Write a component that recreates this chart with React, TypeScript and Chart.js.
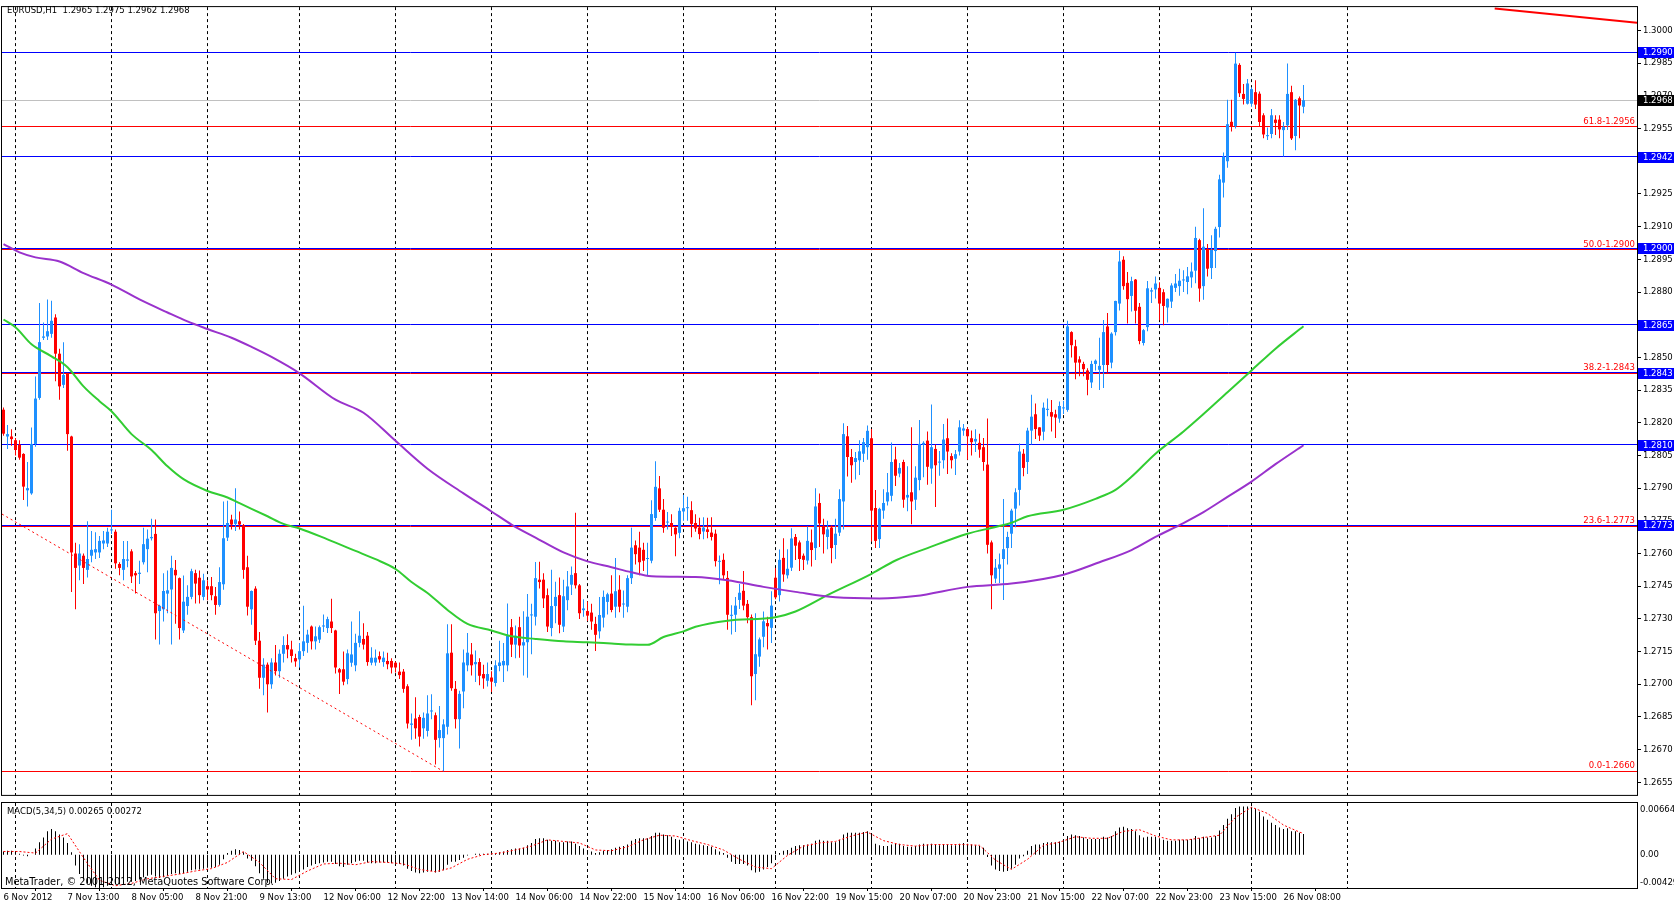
import React, { useEffect, useRef } from "react";
import { Chart, registerables } from "chart.js";

Chart.register(...registerables);

const FONT = "'DejaVu Sans', 'Liberation Sans', sans-serif";
const PIP = 0.0001;
const BASE_PRICE = 1.26;

// ---- candles (pips above 1.2600), one per hour, bar 0 = 6 Nov 21:00 ----
const OPEN_PIPS = [
  226, 213.7, 213.7, 212, 210, 205.7, 189, 187.6, 210.3, 231.4,
  259, 259.6, 260.8, 268.3, 251.7, 237.4, 242.7, 213.7, 160, 154.5,
  159, 152.5, 159, 160.5, 160.5, 164.6, 164.6, 170.6, 170, 155.2,
  152.5, 156.7, 161, 151, 150.6, 156, 162, 167, 169, 133.6,
  134.4, 141.6, 143.5, 152.5, 148.7, 124.7, 135.9, 140.1, 151, 148.9,
  140.1, 145, 145, 140.4, 136.4, 145.9, 167.3, 175.6, 173.6, 174.8,
  173, 153.7, 134.4, 143.9, 120, 103, 109, 100, 110, 106,
  114, 118, 116, 112, 111.4, 115.2, 119, 126.5, 119.7, 120.5,
  126.5, 125.8, 128.8, 124.7, 106.9, 106.9, 102.4, 109.9, 108.7, 119,
  120.8, 122.3, 109.9, 110, 112.9, 110.2, 110.7, 110.7, 109.9, 105.8,
  105.8, 99.1, 81.4, 84.3, 85, 79.8, 78.6, 87.5, 85.8, 75.3,
  75.3, 80.5, 114.5, 97.9, 84, 96.7, 108.7, 113.7, 109.2, 110.2,
  104.7, 101.6, 103.1, 100.6, 108.4, 108.7, 108.7, 126.2, 118.2, 126.2,
  117.8, 119.3, 131.6, 131, 148, 148, 140.9, 125.8, 135.9, 140.9,
  126.5, 138.6, 145.7, 151, 145.4, 134, 133.6, 132.9, 127.7, 124.3,
  130.6, 137.8, 141.6, 135.6, 143.4, 136.6, 135.6, 148.7, 163.8, 162.7,
  161.7, 157.5, 156.7, 176.3, 189.9, 180.1, 174.2, 174, 171.8, 169.5,
  179.3, 180.8, 179.9, 174, 171.9, 170.1, 171.1, 169.6, 169.1, 156.2,
  157.1, 148.8, 131.4, 131.9, 138.7, 142.9, 136.9, 130.8, 104.7, 112.7,
  121.8, 128.1, 125.9, 148.9, 140.9, 158, 150, 153.5, 167.6, 165.1,
  159, 156.8, 165.1, 162.5, 183.2, 172.6, 167.6, 171.9, 163.9, 169.6,
  183.9, 213.8, 204.3, 202, 202.8, 205.8, 208.8, 212.9, 180.9, 166.6,
  179.7, 183.9, 186.5, 203.2, 196.7, 202, 185.7, 188.1, 184.7, 193.7,
  209.9, 211.8, 199, 208, 201.7, 202.8, 212.9, 204.7, 203.5, 206.8,
  216.4, 217.1, 212.9, 211.4, 210.8, 208.8, 200.8, 165.1, 148.5, 153,
  157.5, 162.5, 169.1, 180.6, 189.2, 205.8, 202, 216.4, 223.9, 217.9,
  215.9, 225.9, 224.9, 223.9, 221.9, 226.6, 225.9, 261.6, 255.1, 249.1,
  247, 244, 238.5, 247, 244.3, 246.5, 264.2, 247.6, 261.6, 274.7,
  294.8, 284.2, 278.2, 285.7, 273.2, 256.6, 263.9, 280.2, 281.2, 281.9,
  279.9, 272.9, 275.6, 281.9, 282.7, 285.3, 284.6, 286.7, 289.8, 303.8,
  282.7, 299.7, 291, 298.8, 309.8, 330.2, 340, 358.1, 356.1, 384.2,
  370.9, 366.4, 366.4, 371.7, 371, 361.1, 351.5, 352.5, 359.1, 359.1,
  354.3, 356.5, 371.7, 351.6, 368.9, 365,
];
const HIGH_PIPS = [
  227, 219, 217, 213, 212, 206, 202, 217.8, 241.2, 275,
  266, 276.6, 276, 269.8, 254, 257, 243, 214, 165, 164.3,
  160, 174.8, 170.3, 169.8, 168, 170.3, 171.8, 180.1, 171, 156,
  165.8, 165.8, 162, 152, 156.7, 171.8, 171, 176, 175.6, 136.5,
  151, 152.2, 159, 157, 149, 149.9, 145.4, 153, 152.5, 152.2,
  150.7, 147.7, 149.2, 144.6, 153.7, 183.9, 184.2, 177.8, 189.9, 179.3,
  173.6, 159, 143, 145, 124, 112, 110, 112, 118, 116,
  122, 123, 120, 114, 119, 136, 125, 127, 126.5, 127,
  132, 131, 139.2, 125, 107.5, 115, 116, 128.8, 123.2, 133.5,
  128, 124, 117, 116, 115, 115, 114.5, 112, 110.5, 110,
  107, 100, 86.6, 94.1, 86, 87, 95, 95.4, 87, 90,
  84, 127.5, 127.5, 101.5, 97, 116, 123.5, 119, 115.5, 112,
  109, 110, 106, 111, 120, 119, 137.1, 130, 127, 131,
  133.5, 141.4, 137, 156.1, 156.2, 151, 144, 152.5, 147, 149,
  148, 152, 154, 178.7, 146, 139, 138, 137, 131, 140,
  143, 142, 150, 158, 150, 143, 150, 171.8, 166, 170,
  165, 165, 184.5, 202.3, 195.6, 185, 179, 178, 172, 181,
  187, 186, 184, 178, 176.4, 176.6, 176.4, 176.6, 171, 159.1,
  160, 152, 136.3, 140, 146, 152, 138.7, 132, 132.6, 121.5,
  133.4, 131, 142.7, 153.4, 161.8, 167, 162, 171.6, 169, 166,
  160, 172.4, 171, 190, 187.5, 176, 175, 173, 176, 189.5,
  219.8, 218.5, 208, 206.6, 212, 213, 218.8, 217.1, 189.2, 181,
  189.5, 197, 211, 209, 201.5, 203, 200, 217.9, 200, 221.3,
  211.5, 216, 228.4, 210, 207, 219.4, 222, 206, 207.5, 221.1,
  219.4, 218, 216.4, 217, 215, 213, 222, 166, 157.5, 160,
  185, 170, 180.5, 190, 210.5, 208, 217.7, 232.9, 228.8, 218,
  229.3, 231.1, 230.5, 226, 229.8, 230, 266.8, 262, 258.1, 250.5,
  248, 245, 248.5, 249, 259, 267.2, 270.4, 261.5, 276, 298.9,
  296.4, 289.2, 287, 286, 275, 263, 285.1, 282, 287.1, 284.5,
  281.3, 277, 284, 288.3, 290.7, 290, 291.5, 293.5, 310, 304.4,
  318.4, 302, 306, 310, 333.8, 344, 368.2, 368.2, 389.8, 385,
  375.5, 377.7, 374, 377.2, 372, 362, 355.5, 364, 361.1, 361.1,
  358, 384.8, 374.7, 368.6, 369.7, 375,
];
const LOW_PIPS = [
  214, 208, 209.5, 205, 203, 184.6, 181.6, 187, 209, 230.6,
  258, 258, 259, 239, 230.6, 236, 207.2, 142.4, 134.4, 147.7,
  146, 149, 156, 157.5, 158, 162, 163, 169, 153, 150,
  147.7, 153.7, 146.5, 141.6, 146, 155, 151.4, 166, 120.5, 118.3,
  128.8, 132.6, 118.3, 127.8, 120.5, 123.5, 131.9, 139, 137.1, 137.1,
  138.6, 138.6, 138.6, 131.9, 135.6, 143.4, 165.8, 171, 170.3, 171,
  148.4, 131.6, 127.3, 118, 98, 95, 87, 98, 104, 103,
  110, 112, 110, 108, 107.7, 113, 114.5, 116, 116, 119,
  124, 123.5, 123.5, 105, 95.5, 99.5, 100, 108, 106, 117,
  116, 108.5, 108.7, 108.5, 109.9, 108, 106.9, 105, 105.4, 102.4,
  96.1, 79.7, 74.5, 75, 71.4, 75, 76, 84, 63.2, 71,
  60, 77, 97, 79.7, 70.5, 89, 106, 104, 101, 99.5,
  98, 99, 96.5, 99, 106, 101, 106, 112.5, 112, 112.2,
  104, 103, 113.8, 127, 144, 135, 124, 122, 128, 123.4,
  124, 134, 141, 144, 130, 131, 129, 125, 115.3, 121,
  126, 132, 133, 130.5, 133, 130.5, 133, 146, 155, 150,
  152, 150, 155.5, 175, 179, 169.5, 171, 168, 158.8, 167,
  175, 175, 167.5, 170, 166.6, 166.6, 167, 166, 154, 145.9,
  148, 125, 122.8, 124, 134.5, 134, 128, 90.4, 92.7, 108,
  117, 116, 119, 139, 138, 147, 148.5, 152, 157, 152,
  152.4, 155, 154, 157, 163, 160, 162, 155.5, 157.5, 168,
  171, 195.3, 192.5, 194, 196, 202, 203, 165.5, 162.5, 162.5,
  176, 182, 184, 191, 195, 181, 179.4, 173.4, 180, 189,
  195, 191.6, 192, 181.4, 195.7, 199, 196.5, 199, 196, 205,
  214, 203, 205, 206.6, 204, 198, 160, 134.4, 146.5, 146.5,
  138.7, 155, 162.5, 172, 182, 195.5, 196.5, 210, 212.5, 211.6,
  212, 223, 216, 213, 220, 224, 225, 250, 240, 241.3,
  241.3, 232.6, 236, 244, 235, 236, 242.9, 245, 260, 271.5,
  281, 265.6, 271, 265.6, 256, 255.5, 262, 275, 277, 267,
  264.7, 266, 272.7, 280, 278.3, 280, 279, 282, 284, 275.5,
  276.5, 287.1, 286, 291, 305, 323.4, 337, 353.6, 355, 369.5,
  366, 366, 365, 364, 356, 350.5, 349.8, 350.5, 352, 350.5,
  342.2, 354.3, 349.8, 345, 350.5, 362,
];
const CLOSE_PIPS = [
  215, 214.8, 212.5, 207.5, 204, 190.7, 190, 210.3, 231.1, 257,
  259.6, 262, 266.8, 251.7, 236.7, 241.9, 214.8, 160.5, 153.4, 160,
  153.4, 157.5, 161.7, 162, 165.8, 166, 170, 171, 155.5, 153.4,
  157.5, 157.3, 149.5, 150, 151.2, 164.3, 166.8, 167.6, 132.6, 136,
  142.8, 143.1, 153.4, 150, 125.8, 137.9, 140.1, 151.9, 146.2, 140.9,
  147.7, 143.5, 140.9, 136.4, 146.9, 167, 174, 173.3, 175.6, 173.3,
  152.5, 135.6, 142.8, 120, 103, 109, 100, 110, 106, 114,
  118, 116, 113, 110.5, 115.2, 119.7, 122.8, 119.7, 122, 126.2,
  127, 129.9, 125.8, 107.7, 105.4, 101.2, 114.2, 113.7, 119, 122.3,
  118.2, 110.2, 112.2, 112.2, 111.4, 112.2, 109.2, 107.7, 107.7, 104.2,
  97.9, 82, 82, 79.8, 76, 84.6, 86.6, 88, 74.5, 79,
  81.6, 114.2, 98.2, 84, 95.6, 110, 114.5, 108.7, 110.2, 103.9,
  102.7, 104.7, 101.2, 108.7, 110, 110.7, 122.3, 118.2, 122.3, 117.8,
  119.3, 131, 132, 148.7, 146.9, 139.4, 126.5, 135.9, 140.1, 127.3,
  140.4, 144.9, 150.2, 145.4, 132.6, 134.8, 131.5, 128.8, 122.7, 131.8,
  140.1, 141.3, 134.1, 142.7, 135.6, 137, 148.7, 162.7, 159.7, 156,
  156.7, 157.9, 178.1, 190.6, 180.1, 171.8, 174.6, 172.5, 168.8, 179.6,
  180.8, 181.2, 173.6, 171.5, 168.9, 171.9, 169.9, 167.6, 156.5, 156.5,
  150, 131.9, 131.9, 136.1, 142, 136.1, 130.8, 103.7, 113.8, 120.6,
  128.9, 126.6, 136.1, 139.9, 157.1, 150.4, 153, 166.9, 163.6, 157.5,
  157.1, 165.8, 161.6, 181.6, 173.8, 168.8, 171.1, 162.5, 169.1, 185,
  214.8, 204.3, 200.5, 203.8, 206.9, 211.1, 216.3, 179.7, 165.8, 180.5,
  183.2, 188.1, 202, 195.7, 199.3, 184.7, 186.9, 183.9, 194.8, 210.3,
  210.8, 199.8, 208.8, 200.5, 202.2, 212.3, 206.8, 202.8, 205.6, 217.9,
  217.4, 213.8, 211.1, 212.6, 207.7, 202, 164, 150, 153.5, 155,
  162, 167.6, 179.7, 188.1, 206.8, 199.3, 216.4, 222.8, 217.1, 214.1,
  226.9, 226.4, 222.8, 222.4, 227.7, 227, 264.2, 255.6, 247.6, 247.6,
  244.6, 239.7, 247, 248.5, 246.1, 261.6, 246.5, 260.9, 275.9, 294,
  282.7, 276.7, 285, 271.4, 257.5, 262.5, 281.7, 280.8, 283.9, 274.7,
  273.6, 276.9, 283, 283.9, 285.2, 285.6, 287.2, 289.4, 304.8, 281.6,
  300.8, 290.7, 299.3, 309, 331.7, 342.2, 357, 356.1, 384.8, 371.2,
  368.6, 375.7, 373.1, 366, 358, 352.3, 352, 361.1, 357.6, 354.6,
  355.8, 370.9, 350.5, 368.2, 365.6, 368,
];

// ---- moving averages (sampled, pips above 1.2600) ----
const MA_FAST_BARS = [0, 3, 7, 12, 16, 20, 24, 27, 32, 37, 41, 45, 51, 56, 59, 66, 70, 74, 81, 88, 93, 98, 102, 106, 111, 116, 122, 127, 133, 140, 146, 152, 157, 161, 165, 170, 173, 181, 193, 198, 206, 217, 223, 231, 241, 248, 252, 256, 265, 273, 278, 282, 288, 295, 300, 306, 312, 318, 325];
const MA_FAST_PIPS = [267.4, 263.8, 256, 250.5, 245.5, 236.7, 229.9, 225.3, 214.8, 207.5, 200, 194.1, 188.7, 185.7, 183.1, 177.1, 173.6, 171.5, 166.5, 161.2, 157.4, 152.9, 146.9, 141.9, 134.1, 127.7, 124.7, 122, 120.8, 119.7, 119.3, 118.7, 118.2, 118.1, 121.7, 124.3, 126.4, 129.2, 130.8, 133.4, 140.9, 150.7, 156.8, 162.5, 169.1, 172.2, 174.1, 177.1, 180.1, 185.1, 189.2, 195.2, 205.8, 216, 224, 234, 244, 254, 264.3];
const MA_SLOW_BARS = [0, 4, 8, 14, 20, 27, 34, 41, 46, 51, 57, 62, 67, 74, 83, 90, 98, 106, 115, 122, 127, 133, 140, 146, 152, 157, 162, 173, 181, 190, 198, 208, 219, 228, 241, 252, 265, 274, 282, 288, 295, 300, 306, 312, 318, 325];
const MA_SLOW_PIPS = [302, 298.2, 295.9, 294, 288.7, 283.4, 276.6, 270.6, 266.5, 263, 259, 254.8, 250.2, 242.7, 230.6, 224.6, 211.7, 198.9, 187.6, 179.3, 173.3, 167.3, 160.5, 156.4, 153.7, 151.4, 149.6, 149.2, 147.7, 144.7, 142.4, 139.9, 139.4, 140.5, 144.7, 146.2, 150.3, 156, 161.6, 167.6, 174, 179, 186, 193, 201, 209.7];

// ---- MACD (units of 0.0001) ----
const MACD_HIST = [
  4, 5, 5, 3, 1, -1, -2, 0, 8, 16,
  22, 30, 33, 30, 26, 22, 15, 3, -14, -25,
  -32, -37, -40, -42, -43, -42, -40, -38, -38, -38,
  -37, -35, -35, -34, -32, -29, -27, -26, -28, -30,
  -29, -27, -25, -24, -25, -24, -22, -20, -19, -19,
  -18, -17, -17, -16, -13, -6, 2, 5, 7, 6,
  3, -5, -8, -15, -24, -31, -36, -37, -36, -34,
  -31, -28, -26, -24, -22, -19, -16, -14, -12, -11,
  -10, -9, -9, -12, -15, -16, -13, -11, -9, -8,
  -8, -10, -11, -11, -10, -10, -10, -11, -11, -12,
  -14, -18, -21, -23, -24, -23, -22, -21, -23, -22,
  -20, -13, -9, -9, -7, -4, -1, 0, 1, 1,
  1, 1, 1, 2, 3, 4, 6, 7, 8, 8,
  9, 12, 15, 20, 21, 21, 19, 18, 18, 16,
  16, 17, 17, 14, 11, 8, 6, 4, 2, 3,
  5, 6, 7, 9, 10, 11, 13, 18, 20, 21,
  21, 21, 24, 28, 28, 26, 25, 23, 20, 19,
  18, 17, 16, 14, 13, 12, 11, 10, 7, 4,
  2, -4, -9, -12, -12, -12, -14, -20, -23, -22,
  -19, -16, -11, -4, 2, 5, 6, 9, 11, 12,
  12, 13, 14, 18, 19, 18, 18, 16, 16, 19,
  26, 28, 28, 28, 28, 29, 30, 24, 14, 12,
  11, 11, 13, 14, 14, 11, 10, 10, 11, 13,
  14, 13, 14, 13, 12, 13, 13, 12, 12, 14,
  15, 14, 13, 12, 11, 9, -3, -14, -19, -21,
  -22, -21, -18, -13, -5, -2, 5, 11, 13, 13,
  15, 16, 16, 16, 17, 17, 24, 26, 25, 24,
  22, 20, 20, 20, 20, 23, 22, 24, 30, 35,
  36, 34, 33, 30, 25, 22, 23, 23, 23, 21,
  19, 18, 18, 18, 19, 19, 19, 20, 24, 21,
  23, 22, 22, 24, 31, 38, 46, 52, 60, 62,
  62, 62, 61, 59, 55, 49, 45, 41, 38, 35,
  33, 34, 30, 30, 28, 26.5,
];
const SIGNAL_BARS = [0, 4, 8, 12, 16, 20, 24, 28, 32, 36, 40, 44, 48, 52, 56, 60, 64, 68, 72, 76, 80, 84, 88, 92, 96, 100, 104, 108, 112, 116, 120, 124, 128, 132, 136, 140, 144, 148, 152, 156, 160, 164, 168, 172, 176, 180, 184, 188, 192, 196, 200, 204, 208, 212, 216, 220, 224, 228, 232, 236, 240, 244, 248, 252, 256, 260, 264, 268, 272, 276, 280, 284, 288, 292, 296, 300, 304, 308, 312, 316, 320, 324, 325];
const SIGNAL_VALUES = [4, 4, 2, 20, 27, -4, -33, -40, -37, -31, -28, -25, -21, -18, -10, 4, -10, -31, -32, -21, -12, -11, -13, -9, -10, -12, -19, -22, -17, -6, 0, 2, 6, 11, 19, 17, 15, 6, 5, 10, 19, 25, 24, 18, 13, 6, -6, -16, -18, -1, 11, 15, 17, 24, 29, 18, 13, 11, 13, 13, 13, 12, -7, -19, -6, 12, 16, 23, 21, 21, 30, 32, 24, 19, 19, 22, 25, 48, 61, 53, 38, 29, 27.2];
const MACD_MIN = -0.00429;
const MACD_MAX = 0.00664;

// ---- axes / labels ----
const TIME_LABELS = ["6 Nov 2012", "7 Nov 13:00", "8 Nov 05:00", "8 Nov 21:00", "9 Nov 13:00", "12 Nov 06:00", "12 Nov 22:00", "13 Nov 14:00", "14 Nov 06:00", "14 Nov 22:00", "15 Nov 14:00", "16 Nov 06:00", "16 Nov 22:00", "19 Nov 15:00", "20 Nov 07:00", "20 Nov 23:00", "21 Nov 15:00", "22 Nov 07:00", "22 Nov 23:00", "23 Nov 15:00", "26 Nov 08:00"];
const TIME_LABEL_BARS = [0, 16, 32, 48, 64, 80, 96, 112, 128, 144, 160, 176, 192, 208, 224, 240, 256, 272, 288, 304, 320];
const DAY_SEPARATOR_BARS = [3, 27, 51, 74, 98, 122, 146, 170, 193, 217, 241, 265, 289, 312, 336];
const PRICE_TICKS = [1.2655, 1.267, 1.2685, 1.27, 1.2715, 1.273, 1.2745, 1.276, 1.2775, 1.279, 1.2805, 1.282, 1.2835, 1.285, 1.2865, 1.288, 1.2895, 1.291, 1.2925, 1.294, 1.2955, 1.297, 1.2985, 1.3];
const SUPPORT_LEVELS = [1.299, 1.2942, 1.29, 1.2865, 1.2843, 1.281, 1.2773];
const FIB_LEVELS = [1.266, 1.27725, 1.28428, 1.28993, 1.29558];
const FIB_TEXT = ["0.0-1.2660", "23.6-1.2773", "38.2-1.2843", "50.0-1.2900", "61.8-1.2956"];
const BID_PRICE = 1.2968;
const FIB_TREND_BARS = [-0.375, 110];
const FIB_TREND_PIPS = [178.1, 60];
const TOP_TREND_BARS = [372.8, 408.375];
const TOP_TREND_PRICES = [1.30101, 1.300358];
const HEADER = "EURUSD,H1  1.2965 1.2975 1.2962 1.2968";
const MACD_TITLE = "MACD(5,34,5) 0.00265 0.00272";
const COPYRIGHT = "MetaTrader, \u00A9 2001-2012, MetaQuotes Software Corp.";

// ---- view ranges ----
const X_MIN = -0.375;
const X_MAX = 408.375;
const Y_MAX = 1.3010736;
const Y_MIN = 1.2649241;

const price = (p: number) => BASE_PRICE + p * PIP;
const UP = "#1e90ff";
const DOWN = "#ff0000";

const crisp = (v: number) => Math.round(v - 0.5) + 0.5;

const dayGridPlugin = {
  id: "dayGrid",
  beforeDatasetsDraw(chart: any) {
    const { ctx, chartArea: a, scales } = chart;
    ctx.save();
    ctx.beginPath();
    ctx.rect(a.left, a.top, a.right - a.left, a.bottom - a.top);
    ctx.clip();
    ctx.strokeStyle = "#000";
    ctx.lineWidth = 1;
    ctx.setLineDash([3, 3]);
    DAY_SEPARATOR_BARS.forEach((b) => {
      const x = crisp(scales.x.getPixelForValue(b));
      ctx.beginPath();
      ctx.moveTo(x, a.top);
      ctx.lineTo(x, a.bottom);
      ctx.stroke();
    });
    ctx.restore();
  },
};

const levelsPlugin = {
  id: "levels",
  beforeDatasetsDraw(chart: any) {
    const { ctx, chartArea: a, scales } = chart;
    const line = (p: number, color: string) => {
      const y = crisp(scales.y.getPixelForValue(p));
      ctx.strokeStyle = color;
      ctx.beginPath();
      ctx.moveTo(a.left, y);
      ctx.lineTo(a.right, y);
      ctx.stroke();
    };
    ctx.save();
    ctx.lineWidth = 1;
    ctx.setLineDash([]);
    line(BID_PRICE, "#c0c0c0");
    FIB_LEVELS.forEach((p) => line(p, "#ff0000"));
    SUPPORT_LEVELS.forEach((p) => line(p, "#0000ff"));
    ctx.restore();
  },
};

const mainLabelsPlugin = {
  id: "mainLabels",
  afterDraw(chart: any) {
    const { ctx, chartArea: a, scales } = chart;
    ctx.save();
    ctx.strokeStyle = "#000";
    ctx.lineWidth = 1;
    ctx.strokeRect(a.left - 0.5, a.top - 0.5, a.right - a.left + 1, a.bottom - a.top + 1);
    ctx.font = `8.5px ${FONT}`;
    ctx.fillStyle = "#000";
    ctx.textBaseline = "middle";
    ctx.textAlign = "left";
    ctx.fillText(HEADER, 7, 11);
    // fib texts
    ctx.fillStyle = "#ff0000";
    ctx.textAlign = "right";
    ctx.textBaseline = "alphabetic";
    FIB_LEVELS.forEach((p, i) => {
      const y = scales.y.getPixelForValue(p);
      ctx.fillText(FIB_TEXT[i], a.right - 2, Math.round(y) - 3);
    });
    // price boxes
    const box = (p: number, bg: string) => {
      const y = Math.round(scales.y.getPixelForValue(p));
      ctx.fillStyle = bg;
      ctx.fillRect(a.right + 1, y - 5, 40, 11);
      ctx.fillStyle = "#fff";
      ctx.textAlign = "left";
      ctx.textBaseline = "middle";
      ctx.fillText(p.toFixed(4), a.right + 6, y + 0.5);
    };
    SUPPORT_LEVELS.forEach((p) => box(p, "#0000ff"));
    box(BID_PRICE, "#000");
    ctx.restore();
  },
};

const macdLabelsPlugin = {
  id: "macdLabels",
  afterDraw(chart: any) {
    const { ctx, chartArea: a, scales } = chart;
    ctx.save();
    ctx.strokeStyle = "#000";
    ctx.lineWidth = 1;
    ctx.strokeRect(a.left - 0.5, a.top - 0.5, a.right - a.left + 1, a.bottom - a.top + 1);
    ctx.fillStyle = "#000";
    ctx.font = `8.5px ${FONT}`;
    ctx.textAlign = "left";
    ctx.textBaseline = "middle";
    ctx.fillText(MACD_TITLE, 7, 10);
    const ys = scales.y;
    ctx.fillText(MACD_MAX.toFixed(5), a.right + 3, ys.getPixelForValue(MACD_MAX) + 7);
    ctx.fillText("0.00", a.right + 3, ys.getPixelForValue(0));
    ctx.fillText(MACD_MIN.toFixed(5), a.right + 3, ys.getPixelForValue(MACD_MIN) - 5);
    ctx.font = `9.8px ${FONT}`;
    ctx.fillText(COPYRIGHT, 5, 80);
    ctx.restore();
  },
};

export default function App() {
  const mainRef = useRef<HTMLCanvasElement>(null);
  const macdRef = useRef<HTMLCanvasElement>(null);

  useEffect(() => {
    document.body.style.margin = "0";
    const colors = CLOSE_PIPS.map((c, i) => (c >= OPEN_PIPS[i] ? UP : DOWN));

    const main = new Chart(mainRef.current as HTMLCanvasElement, {
      type: "bar",
      data: {
        datasets: [
          {
            type: "line",
            label: "trend",
            data: TOP_TREND_BARS.map((b, i) => ({ x: b, y: TOP_TREND_PRICES[i] })),
            borderColor: "#ff0000",
            borderWidth: 2,
            pointRadius: 0,
            order: 0,
            clip: 0,
          } as any,
          {
            type: "line",
            label: "fibline",
            data: FIB_TREND_BARS.map((b, i) => ({ x: b, y: price(FIB_TREND_PIPS[i]) })),
            borderColor: "#ff0000",
            borderWidth: 1,
            borderDash: [2, 3],
            pointRadius: 0,
            order: 0,
            clip: 0,
          } as any,
          {
            type: "line",
            label: "ma slow",
            data: MA_SLOW_BARS.map((b, i) => ({ x: b, y: price(MA_SLOW_PIPS[i]) })),
            borderColor: "#9932cc",
            borderWidth: 2,
            pointRadius: 0,
            cubicInterpolationMode: "monotone",
            order: 1,
          } as any,
          {
            type: "line",
            label: "ma fast",
            data: MA_FAST_BARS.map((b, i) => ({ x: b, y: price(MA_FAST_PIPS[i]) })),
            borderColor: "#32cd32",
            borderWidth: 2,
            pointRadius: 0,
            cubicInterpolationMode: "monotone",
            order: 1,
          } as any,
          {
            type: "bar",
            label: "body",
            data: OPEN_PIPS.map((o, i) => ({ x: i, y: [price(o), price(CLOSE_PIPS[i])] })),
            backgroundColor: colors,
            borderWidth: 0,
            barThickness: 3,
            grouped: false,
            minBarLength: 1,
            inflateAmount: 0,
            order: 2,
          } as any,
          {
            type: "bar",
            label: "wick",
            data: LOW_PIPS.map((l, i) => ({ x: i, y: [price(l), price(HIGH_PIPS[i])] })),
            backgroundColor: colors,
            borderWidth: 0,
            barThickness: 1,
            grouped: false,
            minBarLength: 1,
            inflateAmount: 0,
            order: 3,
          } as any,
        ],
      },
      options: {
        responsive: false,
        animation: false,
        events: [],
        layout: { padding: { left: 2, right: 0, top: 2, bottom: 2 } },
        plugins: { legend: { display: false }, tooltip: { enabled: false } },
        scales: {
          x: {
            type: "linear",
            display: false,
            min: X_MIN,
            max: X_MAX,
            offset: false,
          },
          y: {
            type: "linear",
            position: "right",
            min: Y_MIN,
            max: Y_MAX,
            afterFit: (s: any) => {
              s.width = 37;
            },
            afterBuildTicks: (s: any) => {
              s.ticks = PRICE_TICKS.map((v) => ({ value: v }));
            },
            ticks: {
              color: "#000",
              font: { family: FONT, size: 8.5 },
              padding: 2,
              autoSkip: false,
              callback: (v: any) => Number(v).toFixed(4),
            },
            grid: { drawOnChartArea: false, drawTicks: true, tickLength: 4, color: "#000" },
            border: { display: false },
          },
        },
      } as any,
      plugins: [dayGridPlugin, levelsPlugin, mainLabelsPlugin],
    });

    const macd = new Chart(macdRef.current as HTMLCanvasElement, {
      type: "bar",
      data: {
        datasets: [
          {
            type: "line",
            label: "signal",
            data: SIGNAL_BARS.map((b, i) => ({ x: b, y: SIGNAL_VALUES[i] * PIP })),
            borderColor: "#ff0000",
            borderWidth: 1,
            borderDash: [2, 2],
            pointRadius: 0,
            order: 0,
          } as any,
          {
            type: "bar",
            label: "macd",
            data: MACD_HIST.map((v, i) => ({ x: i, y: v * PIP })),
            backgroundColor: "#000",
            borderWidth: 0,
            barThickness: 1,
            grouped: false,
            inflateAmount: 0,
            order: 1,
          } as any,
        ],
      },
      options: {
        responsive: false,
        animation: false,
        events: [],
        layout: { padding: { left: 2, right: 0, top: 1, bottom: 0 } },
        plugins: { legend: { display: false }, tooltip: { enabled: false } },
        scales: {
          x: {
            type: "linear",
            position: "bottom",
            min: X_MIN,
            max: X_MAX,
            offset: false,
            afterFit: (s: any) => {
              s.height = 18;
            },
            afterBuildTicks: (s: any) => {
              s.ticks = TIME_LABEL_BARS.map((v) => ({ value: v }));
            },
            ticks: {
              color: "#000",
              font: { family: FONT, size: 8.5 },
              padding: 2,
              autoSkip: false,
              maxRotation: 0,
              minRotation: 0,
              align: "start",
              callback: (_v: any, idx: number) => TIME_LABELS[idx],
            },
            grid: { drawOnChartArea: false, drawTicks: true, tickLength: 3, color: "#000" },
            border: { display: false },
          },
          y: {
            type: "linear",
            position: "right",
            min: MACD_MIN,
            max: MACD_MAX,
            afterFit: (s: any) => {
              s.width = 37;
            },
            ticks: { display: false },
            grid: { display: false },
            border: { display: false },
          },
        },
      } as any,
      plugins: [dayGridPlugin, macdLabelsPlugin],
    });

    return () => {
      main.destroy();
      macd.destroy();
    };
  }, []);

  return (
    <div style={{ position: "relative", width: 1674, height: 906, background: "#fff", overflow: "hidden" }}>
      <canvas ref={mainRef} width={1674} height={802} style={{ position: "absolute", left: 0, top: 0, display: "block" }} />
      <canvas ref={macdRef} width={1674} height={104} style={{ position: "absolute", left: 0, top: 802, display: "block" }} />
    </div>
  );
}
